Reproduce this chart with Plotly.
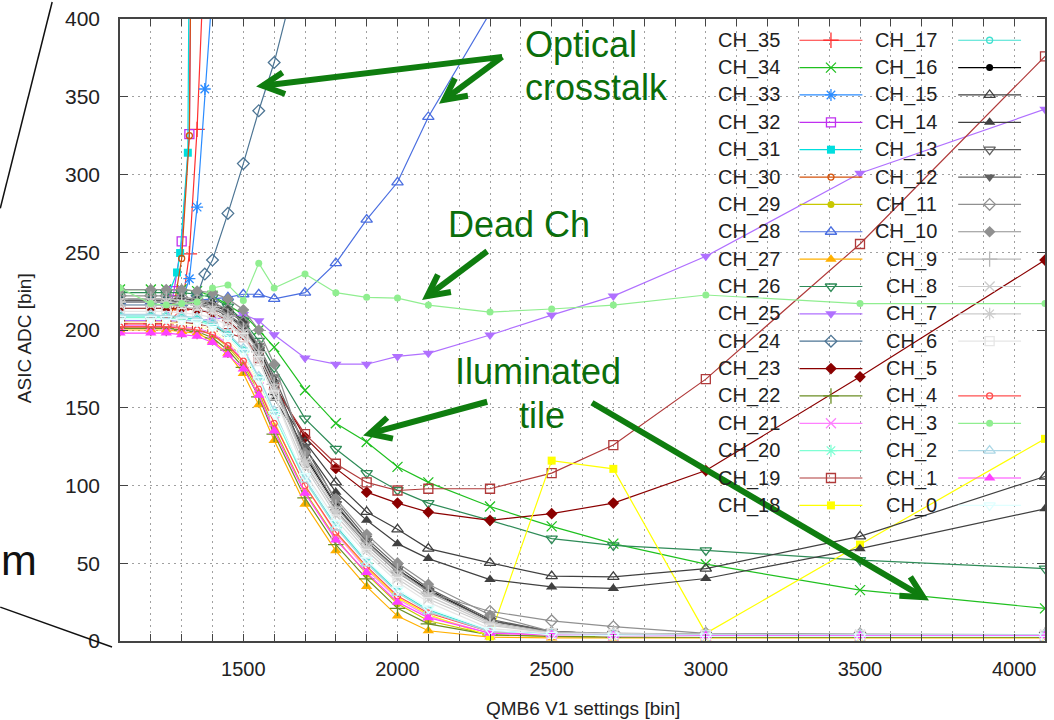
import math
import plotly.graph_objects as go

# ---------------------------------------------------------------------------
# Scan of the QMB6 V1 setting, common scan points
V1 = [1100, 1200, 1250, 1300, 1350, 1400, 1450, 1500, 1550, 1600, 1700,
      1800, 1900, 2000, 2100, 2300, 2500, 2700, 3000, 3500, 4100]

# ASIC ADC response per channel [bin]
ch00 = [207, 207, 207, 206, 205, 202, 196, 186, 168, 146, 106, 76, 52, 33, 21, 7, 4, 3.5, 3, 3, 3]
ch01 = [198, 198, 198, 197, 196, 192, 184, 175, 158, 135, 95, 65, 44, 25, 15, 5, 4, 3.5, 3.5, 3.5, 3.5]
ch02 = [210, 210, 209, 209, 208, 205, 198, 188, 170, 148, 104, 73, 50, 31, 19, 6, 4.5, 4, 4, 4, 4]
ch03 = [227, 217, 216, 217, 218, 227, 229, 219, 243, 227, 236, 224, 221, 220.5, 216, 211.5, 213.5, 216, 222.5, 217, 217]
ch04 = [202, 202, 202, 201, 200, 197, 190, 180, 162, 140, 100, 70, 48, 29, 18, 6, 4, 3.5, 3, 3, 3]
ch05 = [205, 205, 205, 204, 203, 200, 193, 183, 165, 143, 101, 71, 48, 30, 18, 6, 4, 3.5, 3, 3, 3]
ch06 = [212, 212, 212, 211, 210, 208, 203, 195, 180, 158, 108, 78, 56, 38, 25, 8, 5, 4.5, 4, 4, 4]
ch07 = [218, 218, 218, 217, 216, 213, 207, 198, 183, 162, 115, 83, 60, 42, 29, 11, 5, 4.5, 4, 4, 4]
ch08 = [216, 216, 216, 215, 214, 211, 205, 196, 180, 158, 112, 81, 58, 40, 27, 10, 5, 4.5, 4, 4, 4]
ch09 = [220, 220, 220, 219, 218, 215, 209, 200, 186, 165, 117, 86, 63, 45, 31, 12, 5.5, 5, 4.5, 4, 4]
ch10 = [226, 226, 226, 226, 225, 224, 220, 213, 200, 178, 121, 91.5, 68.6, 50.2, 36.5, 16.7, 6, 5, 4.5, 4, 4]
ch11 = [222, 222, 222, 221, 220, 218, 213, 205, 190, 168, 114, 84, 62, 44, 31, 19, 13, 9.2, 4.9, 4.5, 4]
ch12 = [219, 219, 219, 218, 217, 215, 210, 203, 190, 170, 125, 90, 66, 48, 34, 14, 6, 4.5, 4, 4, 4]
ch13 = [218, 218, 218, 217, 216, 214, 209, 201, 187, 166, 120, 88, 64, 46, 32, 13, 6, 4.5, 4, 4, 4]
ch14 = [219, 219, 219, 219, 218, 216, 212, 205, 185, 156, 124, 95.7, 77.6, 62.6, 53, 39.5, 34.8, 33.8, 40.2, 59.4, 85]
ch15 = [220, 220, 220, 220, 219, 217, 213, 206, 188, 160, 128, 102, 83, 71.8, 59.4, 50.2, 41.7, 41.2, 46.6, 67.3, 105.8]
ch16 = [218, 218, 218, 217, 216, 214, 209, 202, 188, 167, 119, 87, 64, 46, 33, 13, 6, 4.5, 4, 4, 4]
ch17 = [209, 209, 209, 208, 207, 204, 197, 187, 169, 147, 104, 74, 51, 32, 20, 6.5, 4.5, 4, 3.5, 3.5, 3.5]
ch18 = [205, 205, 205, 204, 203, 200, 193, 183, 165, 142, 100, 70, 47, 28, 17, 3, 116, 110.7, 4.9, 62, 130]
ch19 = [205, 205, 205, 205, 204, 202, 198, 195, 182, 163, 133, 114, 102, 96.8, 97.9, 97.9, 108, 126, 168.4, 255.3, 376]
ch20 = [208, 208, 208, 207, 206, 203, 196, 186, 168, 145, 103, 73, 50, 31, 19, 6, 4, 3.5, 3, 3, 3]
ch21 = [203, 203, 203, 202, 201, 198, 191, 181, 163, 141, 100, 69, 46, 27, 16, 5, 4, 3.5, 3, 3, 3]
ch22 = [201, 201, 201, 200, 199, 195, 187, 176, 157, 133, 92, 62, 40, 21, 11, 4, 3, 2.5, 2.5, 2.5, 2.5]
ch23 = [214, 214, 214, 214, 213, 211, 206, 197, 183, 165, 131, 111, 95.7, 88.7, 82.9, 77.6, 81.9, 88.7, 109.6, 169.9, 245]
ch25 = [206, 206, 206, 206, 206, 207, 208, 210, 206, 197, 182, 178, 178, 183, 185, 196.8, 209.6, 221.8, 247.4, 300.8, 342]
ch26 = [224, 224, 224, 224, 223, 221, 215, 206, 193, 176, 143, 123.5, 108, 97, 88.7, 77.6, 65.8, 61.5, 58.3, 52, 46.6]
ch27 = [200, 200, 200, 199, 198, 193, 185, 172, 152, 129, 88, 58, 35, 16, 6.6, 2.5, 2, 2, 2, 2, 2]
ch29 = [203, 203, 203, 202, 201, 197, 189, 178, 160, 137, 96, 66, 43, 24, 13, 4, 3, 3, 2.5, 2.5, 2.5]
ch34 = [226, 226, 226, 226, 225, 222, 216, 210, 200, 189, 161.3, 140, 128, 112, 102, 86.5, 73.7, 62.6, 49.4, 32.7, 21]

# channels with optical crosstalk: own scan points, run off scale
v1_ch24 = [1100, 1200, 1250, 1300, 1350, 1375, 1400, 1450, 1500, 1550, 1600, 1700]
ch24 = [216, 216, 216, 216, 222, 236, 245, 275, 307, 341, 372, 450]
v1_ch28 = [1100, 1200, 1250, 1300, 1350, 1400, 1450, 1500, 1550, 1600, 1700,
           1800, 1900, 2000, 2100, 2300, 2500]
ch28 = [218, 218, 218, 218, 219, 220, 221, 223, 223, 220, 224, 243, 271, 295, 337, 404, 470]
v1_ch30 = [1100, 1200, 1250, 1275, 1300, 1325, 1350]
ch30 = [202, 202, 202, 215, 246, 325, 900]
v1_ch31 = [1100, 1200, 1250, 1285, 1295, 1320, 1340]
ch31 = [219, 219, 219, 237, 249.5, 314, 900]
v1_ch32 = [1100, 1200, 1250, 1275, 1300, 1325, 1350]
ch32 = [205, 205, 205, 225, 257, 326, 900]
v1_ch33 = [1100, 1200, 1250, 1300, 1325, 1350, 1375, 1400]
ch33 = [216, 216, 216, 218, 233, 279, 355, 420]
v1_ch35 = [1100, 1200, 1250, 1300, 1325, 1350, 1375]
ch35 = [204, 204, 204, 213, 249, 329, 450]

# plotting order (first drawn first), colour and point type of each channel
channels = [
    ("CH_35", v1_ch35, ch35, "#ff3030", "cross-thin"),
    ("CH_34", V1, ch34, "#20c020", "x-thin"),
    ("CH_33", v1_ch33, ch33, "#2b8cff", "asterisk"),
    ("CH_32", v1_ch32, ch32, "#c030f0", "square-open"),
    ("CH_31", v1_ch31, ch31, "#00dede", "square"),
    ("CH_30", v1_ch30, ch30, "#d4520a", "circle-open"),
    ("CH_29", V1, ch29, "#c8c800", "circle"),
    ("CH_28", v1_ch28, ch28, "#4a6ee0", "triangle-up-open"),
    ("CH_27", V1, ch27, "#ffb000", "triangle-up"),
    ("CH_26", V1, ch26, "#2e8b57", "triangle-down-open"),
    ("CH_25", V1, ch25, "#b070ff", "triangle-down"),
    ("CH_24", v1_ch24, ch24, "#4d7594", "diamond-open"),
    ("CH_23", V1, ch23, "#8b0000", "diamond"),
    ("CH_22", V1, ch22, "#6b8e23", "cross-thin"),
    ("CH_21", V1, ch21, "#ff80ff", "x-thin"),
    ("CH_20", V1, ch20, "#7fffd4", "asterisk"),
    ("CH_19", V1, ch19, "#b03a3a", "square-open"),
    ("CH_18", V1, ch18, "#ffff00", "square"),
    ("CH_17", V1, ch17, "#40e0d0", "circle-open"),
    ("CH_16", V1, ch16, "#000000", "circle"),
    ("CH_15", V1, ch15, "#404040", "triangle-up-open"),
    ("CH_14", V1, ch14, "#404040", "triangle-up"),
    ("CH_13", V1, ch13, "#606060", "triangle-down-open"),
    ("CH_12", V1, ch12, "#606060", "triangle-down"),
    ("CH_11", V1, ch11, "#909090", "diamond-open"),
    ("CH_10", V1, ch10, "#909090", "diamond"),
    ("CH_9", V1, ch09, "#b8b8b8", "cross-thin"),
    ("CH_8", V1, ch08, "#cccccc", "x-thin"),
    ("CH_7", V1, ch07, "#cccccc", "asterisk"),
    ("CH_6", V1, ch06, "#e6e6e6", "square-open"),
    ("CH_5", V1, ch05, "#ffffff", "square"),
    ("CH_4", V1, ch04, "#ff5050", "circle-open"),
    ("CH_3", V1, ch03, "#90ee90", "circle"),
    ("CH_2", V1, ch02, "#add8e6", "triangle-up-open"),
    ("CH_1", V1, ch01, "#ff40ff", "triangle-up"),
    ("CH_0", V1, ch00, "#e0ffff", "triangle-down-open"),
]

# ---------------------------------------------------------------------------
W, H = 1054, 720
L, R, T, B = 120, 1047, 17, 641          # plot frame in pixels
FONT = "Liberation Sans, Arial, Helvetica, sans-serif"
GREEN_TXT = "#0b6e0b"
GREEN_ARW = "#0f7d0f"

SIZES = {"cross-thin": 11, "x-thin": 10, "asterisk": 10, "square-open": 9,
         "square": 8, "circle-open": 6, "circle": 7, "triangle-up-open": 10,
         "triangle-up": 10, "triangle-down-open": 10, "triangle-down": 10,
         "diamond-open": 9, "diamond": 9}


def marker_style(color, symbol):
    filled = not (symbol.endswith("-open") or symbol.endswith("-thin")
                  or symbol == "asterisk")
    sym = symbol + "-open" if symbol == "asterisk" else symbol
    if filled:
        return dict(symbol=sym, size=SIZES[symbol], color=color,
                    line=dict(width=0))
    return dict(symbol=sym, size=SIZES[symbol], color=color,
                line=dict(width=1.3, color=color))


def paper(x, y):
    return (x - L) / (R - L), (B - y) / (B - T)


fig = go.Figure()

for name, xs, ys, color, symbol in channels:
    fig.add_trace(go.Scatter(
        x=xs, y=ys, name=name, mode="lines+markers",
        line=dict(color=color, width=1.2),
        marker=marker_style(color, symbol),
        showlegend=False, hoverinfo="x+y+name"))

# key: two columns, label right-justified, sample line to the right
KEY_ROW0, KEY_DY = 38.3, 27.45
KEY_COLS = [(783, 801, 864), (941, 960, 1023)]
annotations = []
for i, (name, xs, ys, color, symbol) in enumerate(channels):
    col, row = divmod(i, 18)
    tx, lx0, lx1 = KEY_COLS[col]
    yy = KEY_ROW0 + row * KEY_DY
    fig.add_trace(go.Scatter(
        x=[lx0, (lx0 + lx1) / 2, lx1], y=[yy, yy, yy],
        xaxis="x2", yaxis="y2", mode="lines",
        line=dict(color=color, width=1.2), showlegend=False,
        hoverinfo="skip"))
    fig.add_trace(go.Scatter(
        x=[(lx0 + lx1) / 2], y=[yy], xaxis="x2", yaxis="y2", mode="markers",
        marker=marker_style(color, symbol), showlegend=False,
        hoverinfo="skip", cliponaxis=False))
    px_, py_ = paper(tx, yy)
    annotations.append(dict(
        x=px_, y=py_, xref="paper", yref="paper", text=name,
        showarrow=False, xanchor="right", yanchor="middle",
        font=dict(family=FONT, size=20, color="#222222")))

# green call-outs
def callout(text, x, y, anchor="left"):
    px_, py_ = paper(x, y)
    annotations.append(dict(
        x=px_, y=py_, xref="paper", yref="paper", text=text,
        showarrow=False, xanchor=anchor, yanchor="middle",
        font=dict(family=FONT, size=36, color=GREEN_TXT)))


callout("Optical", 524, 43)
callout("crosstalk", 524, 86)
callout("Dead Ch", 447, 223)
callout("Iluminated", 539, 371, "center")
callout("tile", 543, 415, "center")

shapes = []


def arrow(x0, y0, x1, y1, head=24, spread=math.radians(27), width=6):
    a0, b0 = paper(x0, y0)
    a1, b1 = paper(x1, y1)
    shapes.append(dict(type="line", xref="paper", yref="paper",
                       x0=a0, y0=b0, x1=a1, y1=b1,
                       line=dict(color=GREEN_ARW, width=width)))
    ang = math.atan2(y0 - y1, x0 - x1)
    pts = []
    for s in (spread, -spread):
        pts.append((x1 + head * math.cos(ang + s), y1 + head * math.sin(ang + s)))
    p = [paper(*pts[0]), paper(x1, y1), paper(*pts[1])]
    path = "M {} {} L {} {} L {} {}".format(p[0][0], p[0][1], p[1][0],
                                            p[1][1], p[2][0], p[2][1])
    shapes.append(dict(type="path", xref="paper", yref="paper", path=path,
                       line=dict(color=GREEN_ARW, width=width)))


arrow(503, 55, 263, 84)
arrow(503, 55, 445, 98)
arrow(488, 250, 428, 295)
arrow(488, 401, 370, 433)
arrow(593, 402, 925, 597)

# slide lines and text running in from the left edge
for (x0, y0, x1, y1) in [(52, 0, 0, 207), (0, 607, 112, 647)]:
    a0, b0 = paper(x0, y0)
    a1, b1 = paper(x1, y1)
    shapes.append(dict(type="line", xref="paper", yref="paper",
                       x0=a0, y0=b0, x1=a1, y1=b1,
                       line=dict(color="#111111", width=1.5)))
mx, my = paper(-1, 560)
annotations.append(dict(x=mx, y=my, xref="paper", yref="paper", text="m",
                        showarrow=False, xanchor="left", yanchor="middle",
                        font=dict(family=FONT, size=43, color="#111111")))

# axis titles
tx_, ty_ = paper((L + R) / 2, 709)
annotations.append(dict(x=tx_, y=ty_, xref="paper", yref="paper",
                        text="QMB6 V1 settings [bin]", showarrow=False,
                        xanchor="center", yanchor="middle",
                        font=dict(family=FONT, size=19, color="#222222")))
tx_, ty_ = paper(25, 337)
annotations.append(dict(x=tx_, y=ty_, xref="paper", yref="paper",
                        text="ASIC ADC [bin]", showarrow=False, textangle=-90,
                        xanchor="center", yanchor="middle",
                        font=dict(family=FONT, size=19, color="#222222")))

GRID = dict(showgrid=True, gridcolor="#a0a0a0", gridwidth=1, griddash="2px,4px")

fig.update_layout(
    width=W, height=H,
    margin=dict(l=L, r=W - R, t=T, b=H - B),
    paper_bgcolor="white", plot_bgcolor="white",
    showlegend=False,
    font=dict(family=FONT, color="#222222"),
    xaxis=dict(range=[1100, 4100], tickvals=[1500, 2000, 2500, 3000, 3500, 4000],
               ticks="inside", ticklen=7, tickcolor="#444444", tickwidth=1.2,
               showline=True, linecolor="#444444", linewidth=1.5, mirror="ticks",
               zeroline=False, tickfont=dict(size=20, color="#222222"),
               ticklabelstandoff=9,
               minor=dict(dtick=100, tick0=1100, ticks="inside", ticklen=7,
                          tickcolor="#444444", tickwidth=1.2, **GRID),
               **GRID),
    yaxis=dict(range=[0, 400], dtick=50, ticks="inside", ticklen=8,
               tickcolor="#444444", tickwidth=1.2,
               showline=True, linecolor="#444444", linewidth=1.5, mirror="ticks",
               zeroline=False, tickfont=dict(size=21, color="#222222"),
               ticklabelstandoff=14, **GRID),
    xaxis2=dict(overlaying="x", anchor="y2", range=[L, R], visible=False,
                fixedrange=True),
    yaxis2=dict(overlaying="y", anchor="x2", range=[B, T], visible=False,
                fixedrange=True),
    annotations=annotations,
    shapes=shapes,
)

fig.write_html("out.html")
